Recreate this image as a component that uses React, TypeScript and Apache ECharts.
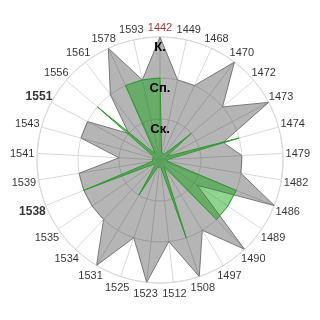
import { useEffect, useRef } from "react";
import * as echarts from "echarts";

const years = ["1442","1449","1468","1470","1472","1473","1474","1479","1482","1486","1489","1490","1497","1508","1512","1523","1525","1531","1534","1535","1538","1539","1541","1543","1551","1556","1561","1578","1593"];
const grayValues = [3,2,2,3,2,3,1.6,2,2,3,1.1,3,2,3,2,3,2,3,2,2,2,2,1,2,2,1,2,3,2];
const greenValues = [2,0.18,0.18,0.18,1,0.18,2,0.18,0.18,2,2,2,0.18,2,0.18,0.18,0.18,1,0.18,0.18,2,0.18,0.18,0.18,0.18,2,0.18,2,2];
const levelLabels = ["", "Ск.", "Сп.", "К."];
const redYears = ["1442"];
const boldYears = ["1551", "1538"];

const closed = (vals: number[]) => vals.map((v, i) => [v, i]).concat([[vals[0], vals.length]]);

export default function App() {
  const ref = useRef<HTMLDivElement>(null);
  useEffect(() => {
    if (!ref.current) return;
    const chart = echarts.init(ref.current, undefined, { renderer: "svg" });
    const n = years.length;
    const R = 123;
    const rMax = 3;
    const font = "'Liberation Sans', Arial, sans-serif";
    // label placement just outside the outer ring (layout only)
    const labelData = years.map((y, i) => {
      const a = (i / n) * 2 * Math.PI;
      const s = Math.sin(a);
      const rPx = 133.5 + 4.5 * s * s;
      const isRed = redYears.includes(y);
      const isBold = boldYears.includes(y);
      return {
        name: y,
        value: [(rPx / R) * rMax, i],
        label: {
          color: isRed ? "#8b0000" : "#000",
          fontWeight: isBold ? "bold" : "normal",
          fontSize: isBold ? 12 : 11,
        },
      };
    });
    chart.setOption({
      animation: false,
      polar: [
        { center: [160, 160], radius: R },
        { center: [160, 160], radius: R },
      ],
      angleAxis: [
        {
          polarIndex: 0, type: "value", min: 0, max: n, interval: 1, startAngle: 90, clockwise: true,
          axisLine: { show: true, lineStyle: { color: "#d9d9d9", width: 1 } },
          axisTick: { show: false },
          splitLine: { show: true, lineStyle: { color: "#d9d9d9", width: 1 } },
          axisLabel: { show: false },
        },
        { polarIndex: 1, type: "value", min: 0, max: n, startAngle: 90, clockwise: true, show: false },
      ],
      radiusAxis: [
        {
          polarIndex: 0, type: "value", min: 0, max: rMax, interval: 1,
          axisLine: { show: false }, axisTick: { show: false }, axisLabel: { show: false },
          splitLine: { show: true, lineStyle: { color: "#d9d9d9", width: 1 } },
        },
        {
          polarIndex: 1, type: "value", min: 0, max: rMax, interval: 1, z: 10,
          axisLine: { show: false }, axisTick: { show: false }, splitLine: { show: false },
          axisLabel: {
            formatter: (v: number) => levelLabels[Math.round(v)] || "",
            fontWeight: "bold", fontSize: 13, color: "#000", fontFamily: font,
            align: "center", verticalAlign: "top", margin: 0, padding: [3, 0, 0, 0],
          },
        },
      ],
      series: [
        {
          type: "line", coordinateSystem: "polar", polarIndex: 0, z: 2,
          data: closed(grayValues), symbol: "none", silent: true,
          lineStyle: { color: "#777777", width: 1 },
          areaStyle: { color: "rgba(0,0,0,0.29)", opacity: 1 },
        },
        {
          type: "line", coordinateSystem: "polar", polarIndex: 0, z: 3,
          data: closed(greenValues), symbol: "none", silent: true,
          lineStyle: { color: "#2f9a2f", width: 1 },
          areaStyle: { color: "rgba(10,160,10,0.45)", opacity: 1 },
        },
        {
          type: "scatter", coordinateSystem: "polar", polarIndex: 1, z: 5,
          symbolSize: 0, silent: true, clip: false,
          data: labelData,
          label: {
            show: true, position: "inside", formatter: "{b}",
            fontSize: 11, color: "#000", fontFamily: font,
            align: "center", verticalAlign: "middle",
          },
        },
      ],
    });
    return () => chart.dispose();
  }, []);
  return <div ref={ref} style={{ position: "fixed", left: 0, top: 0, width: 320, height: 320 }} />;
}
